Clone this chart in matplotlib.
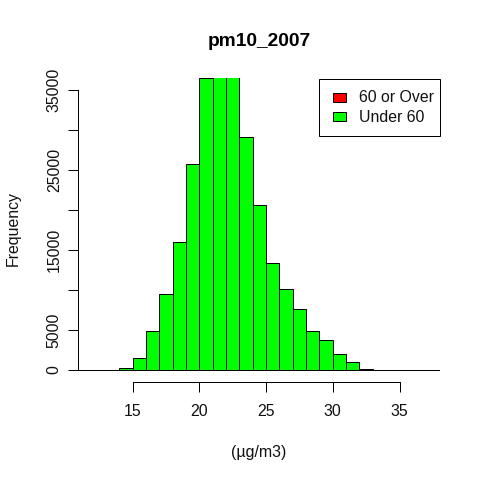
import matplotlib
matplotlib.use("Agg")
import matplotlib.pyplot as plt
from matplotlib.patches import Rectangle

bin_edges = [14, 15, 16, 17, 18, 19, 20, 21, 22, 23, 24, 25, 26, 27, 28, 29, 30, 31, 32, 33]
counts = [300, 1500, 4900, 9500, 16000, 25800, 36500, 39000, 38000, 29150,
          20650, 13400, 10150, 7650, 4900, 3700, 2000, 1000, 100]
x_ticks = [15, 20, 25, 30, 35]
y_ticks = [0, 5000, 10000, 15000, 20000, 25000, 30000, 35000]
y_tick_labels = ["0", "5000", "", "15000", "", "25000", "", "35000"]
legend_labels = ["60 or Over", "Under 60"]
legend_colors = ["#FF0000", "#00FF00"]

W = H = 480
LW = 0.72
plt.rcParams["font.family"] = ["Liberation Sans", "DejaVu Sans"]
plt.rcParams["font.size"] = 11.4

fig = plt.figure(figsize=(W / 100, H / 100), dpi=100)
left, right, top, bottom = 69, 440, 78, 381.5
zero_px = 370.0
ax = fig.add_axes([left / W, 1 - bottom / H, (right - left) / W, (bottom - top) / H])
ax.set_xlim(15 - (132.5 - left) / 13.35, 15 + (right - 132.5) / 13.35)
ax.set_ylim(-(bottom - zero_px) / 0.008, (zero_px - top) / 0.008)

ax.bar(bin_edges[:-1], counts, width=1, align="edge", color="#00FF00",
       edgecolor="black", linewidth=LW, zorder=2)
ax.axhline(0, color="black", linewidth=LW, zorder=3)

for s in ("top", "right"):
    ax.spines[s].set_visible(False)
for s in ("left", "bottom"):
    ax.spines[s].set_linewidth(LW)
ax.spines["left"].set_position(("data", 15 - (132.5 - 78.3) / 13.35))
ax.spines["left"].set_bounds(0, 35000)
ax.spines["bottom"].set_bounds(15, 35)

ax.set_xticks(x_ticks)
ax.set_yticks(y_ticks)
ax.set_yticklabels(y_tick_labels, rotation=90, va="center")
ax.tick_params(axis="x", length=6.9, width=LW, pad=9, labelcolor="#111111")
ax.tick_params(axis="y", length=6.9, width=LW, pad=5, labelcolor="#111111")

fig.text(259 / W, 1 - 42 / H, "pm10_2007", ha="center", va="center",
         fontsize=13.8, fontweight="bold")
fig.text(259 / W, 1 - 452 / H, "(µg/m3)", ha="center", va="center", color="#111111")
fig.text(13 / W, 1 - 229 / H, "Frequency", rotation=90, ha="center", va="center", color="#111111")

def px_rect(x0, y0, x1, y1, **kw):
    fig.add_artist(Rectangle((x0 / W, 1 - y1 / H), (x1 - x0) / W, (y1 - y0) / H,
                             transform=fig.transFigure, edgecolor="black",
                             linewidth=LW, zorder=5, **kw))

px_rect(319, 78.5, 439.5, 136, facecolor="white")
for i, (label, colour) in enumerate(zip(legend_labels, legend_colors)):
    yc = 97.5 + 19.0 * i
    px_rect(333, yc - 4.5, 345.5, yc + 4.5, facecolor=colour)
    fig.text(359 / W, 1 - (yc + 0.5) / H, label, ha="left", va="center",
             color="#111111", zorder=6)

fig.savefig("out.png", dpi=100)
